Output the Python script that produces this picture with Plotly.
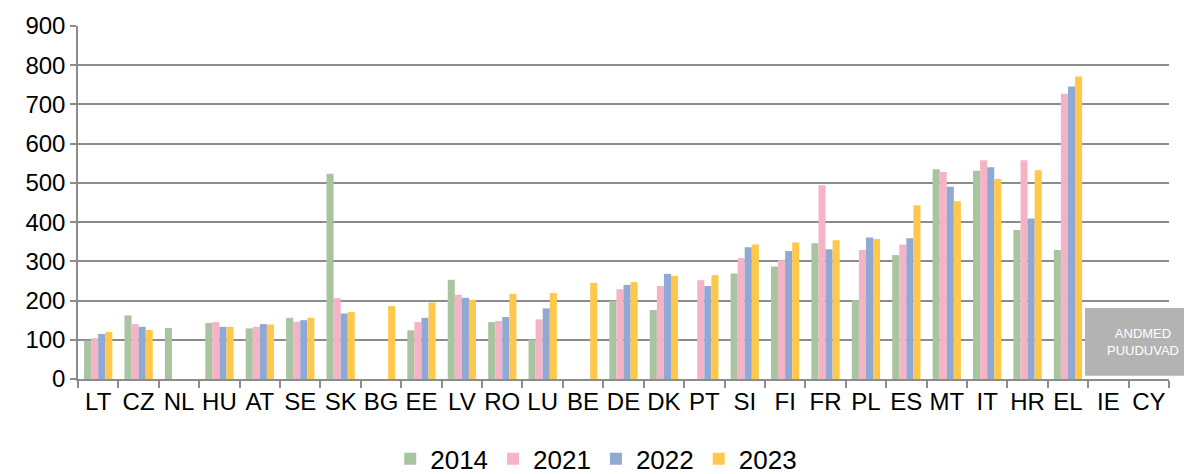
import plotly.graph_objects as go

countries = ["LT", "CZ", "NL", "HU", "AT", "SE", "SK", "BG", "EE", "LV", "RO", "LU", "BE",
             "DE", "DK", "PT", "SI", "FI", "FR", "PL", "ES", "MT", "IT", "HR", "EL", "IE", "CY"]

# None = no value for that year
v2014 = [98, 162, 130, 143, 129, 156, 523, None, 124, 253, 145, 101, None,
         199, 176, None, 269, 287, 346, 201, 316, 535, 531, 380, 329, None, None]
v2021 = [104, 140, None, 145, 133, 146, 206, None, 145, 215, 148, 152, None,
         229, 237, 252, 308, 303, 494, 329, 343, 528, 558, 558, 727, None, None]
v2022 = [115, 133, None, 133, 140, 150, 167, None, 156, 207, 158, 180, None,
         240, 268, 237, 336, 326, 331, 361, 359, 490, 540, 409, 746, None, None]
v2023 = [120, 125, None, 133, 139, 156, 171, 186, 195, 202, 217, 219, 245,
         247, 263, 265, 343, 348, 354, 357, 443, 453, 510, 532, 771, None, None]

years = ["2014", "2021", "2022", "2023"]
colors = ["#a9c4a0", "#f4b4c6", "#8fa8d4", "#fec84d"]

fnt = "Liberation Sans, Arial, sans-serif"

fig = go.Figure()
for name, vals, col in zip(years, [v2014, v2021, v2022, v2023], colors):
    fig.add_trace(go.Bar(x=countries, y=vals, name=name, marker_color=col,
                         marker_line_width=0))

# grey "no data" box over IE / CY
fig.add_shape(type="rect", xref="paper", yref="y", x0=0.923, x1=1.03, y0=8, y1=181,
              fillcolor="#b3b3b3", line_width=0, layer="above")
fig.add_annotation(xref="paper", yref="y", x=0.9765, y=94, showarrow=False,
                   xanchor="center", align="center",
                   text="ANDMED<br>PUUDUVAD", font=dict(family=fnt, size=13, color="white"))

# page body has an 8px margin, so the figure is a bit smaller than the window
fig.update_layout(
    width=1184, height=466,
    margin=dict(l=70, r=23, t=18, b=95),
    paper_bgcolor="white", plot_bgcolor="white",
    barmode="group", bargap=0.3, bargroupgap=0,
    font=dict(family=fnt, size=23, color="black"),
    legend=dict(orientation="h", x=0.475, xanchor="center",
                yref="container", y=0.083, yanchor="top",
                font=dict(size=26), itemwidth=30, traceorder="normal"),
    showlegend=True,
)
fig.update_yaxes(range=[0, 900], dtick=100, showgrid=True, gridcolor="#8c8c8c", gridwidth=1.5,
                 showline=True, linecolor="#8c8c8c", linewidth=1.5,
                 ticks="outside", ticklen=6, tickcolor="#8c8c8c", tickwidth=1.5,
                 zeroline=False, tickfont=dict(size=24), automargin=False)
fig.update_xaxes(showline=True, linecolor="#8c8c8c", linewidth=1.5,
                 ticks="outside", tickson="boundaries", ticklen=7, tickcolor="#8c8c8c",
                 tickwidth=1.5, tickfont=dict(size=24), showgrid=False,
                 tickangle=0, automargin=False)

fig.write_html("out.html")
